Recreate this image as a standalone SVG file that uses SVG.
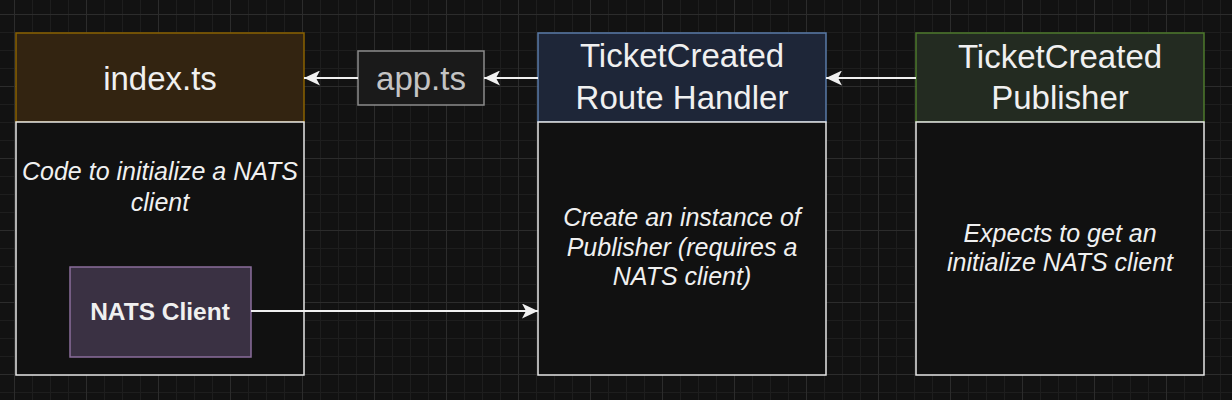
<svg xmlns="http://www.w3.org/2000/svg" width="1232" height="400" viewBox="0 0 1232 400">
<style>
.t{font-family:"Liberation Sans",Arial,sans-serif;fill:#f0f0f0;text-anchor:middle}
.title{font-size:33px}
.body{font-size:25px;font-style:italic}
.bold{font-size:24.5px;font-weight:bold}
.box{fill:#111111;stroke:#e6e6e6;stroke-width:1.5}
.conn{stroke:#f0f0f0;stroke-width:2;fill:none;marker-end:url(#arr)}
</style>
<defs>
<pattern id="grid" x="14" y="14" width="72" height="72" patternUnits="userSpaceOnUse">
<path d="M18.5,0V72M36.5,0V72M54.5,0V72M0,18.5H72M0,36.5H72M0,54.5H72" stroke="#1e1e1e" stroke-width="1" fill="none"/>
<path d="M0.5,0V72M0,0.5H72" stroke="#2c2c2c" stroke-width="1" fill="none"/>
</pattern>
<marker id="arr" markerUnits="userSpaceOnUse" markerWidth="16" markerHeight="15" refX="16" refY="7.5" orient="auto">
<path d="M0,0L16,7.5L0,15L4,7.5Z" fill="#f0f0f0"/>
</marker>
</defs>
<rect width="1232" height="400" fill="#121212"/>
<rect width="1232" height="400" fill="url(#grid)"/>

<g id="index">
<rect x="16" y="33" width="288" height="89" fill="#332411" stroke="#8a6200" stroke-width="1.5"/>
<text class="t title" x="160" y="90">index.ts</text>
<rect class="box" x="16" y="122" width="288" height="253"/>
<text class="t body" x="160" y="180">Code to initialize a NATS</text>
<text class="t body" x="160" y="211">client</text>
</g>

<g id="nats-client">
<rect x="70" y="267" width="181" height="90" fill="#3a3143" stroke="#8b6e9c" stroke-width="1.5"/>
<text class="t bold" x="160" y="320">NATS Client</text>
</g>

<g id="app">
<rect x="358" y="51" width="126" height="54" fill="#1a1a1a" stroke="#8c8c8c" stroke-width="1.5"/>
<text class="t title" x="421" y="90" style="fill:#c4c4c4">app.ts</text>
</g>

<g id="route-handler">
<rect x="538" y="33" width="288" height="89" fill="#1e2638" stroke="#5a7ba8" stroke-width="1.5"/>
<text class="t title" x="682" y="67">TicketCreated</text>
<text class="t title" x="682" y="109">Route Handler</text>
<rect class="box" x="538" y="122" width="288" height="253"/>
<text class="t body" x="682" y="226">Create an instance of</text>
<text class="t body" x="682" y="256">Publisher (requires a</text>
<text class="t body" x="682" y="285">NATS client)</text>
</g>

<g id="publisher">
<rect x="916" y="33" width="288" height="89" fill="#232b21" stroke="#4e7a2c" stroke-width="1.5"/>
<text class="t title" x="1060" y="68">TicketCreated</text>
<text class="t title" x="1060" y="109">Publisher</text>
<rect class="box" x="916" y="122" width="288" height="253"/>
<text class="t body" x="1060" y="242">Expects to get an</text>
<text class="t body" x="1060" y="271">initialize NATS client</text>
</g>

<g id="connectors">
<path class="conn" d="M358,78H304"/>
<path class="conn" d="M538,78H484"/>
<path class="conn" d="M916,78H826"/>
<path class="conn" d="M251,311H538"/>
</g>
</svg>
